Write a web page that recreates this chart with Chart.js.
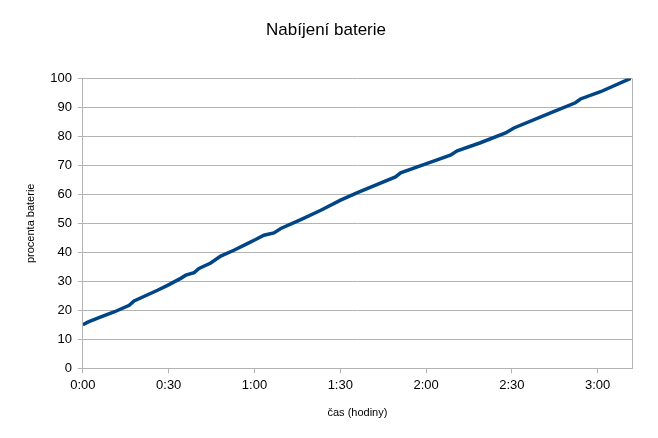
<!DOCTYPE html>
<html lang="cs">

<head>
    <meta charset="UTF-8" />
    <title>Nabíjení baterie</title>
    <script src="https://cdn.jsdelivr.net/npm/chart.js"></script>
    <style>
        body { margin: 0; background: #fff; }
    </style>
</head>

<body>
    <canvas id="chart" width="658" height="438"></canvas>

    <script>
        // time in minutes since start of charging
        const minutes = [0, 1.9, 6.3, 10.9, 16.2, 17.9, 26.1, 29.6, 34.2, 36, 38.9, 40.6, 44.7, 48.2, 52.8, 57.5,
            60.4, 63.3, 66.8, 69.2, 76.2, 83.2, 90.1, 96, 109.3, 111.1, 120.4, 128.5, 130.9, 139, 147.8, 150.7,
            164.6, 172.2, 174, 181, 191.5];
        // battery percentage
        const percent = [15, 16, 17.7, 19.4, 21.7, 23.2, 26.9, 28.6, 31, 32.1, 33, 34.4, 36.3, 38.7, 40.7, 43,
            44.4, 45.9, 46.7, 48.2, 51.3, 54.5, 58, 60.6, 66, 67.4, 70.7, 73.5, 75, 77.8, 81.2, 82.9,
            88.5, 91.6, 92.9, 95.4, 100];
        const yTicks = [0, 10, 20, 30, 40, 50, 60, 70, 80, 90, 100];

        const points = minutes.map((m, i) => ({ x: m, y: percent[i] }));

        function hm(v) {
            const h = Math.floor(v / 60);
            const m = Math.round(v % 60);
            return h + ':' + (m < 10 ? '0' : '') + m;
        }

        const frame = {
            id: 'frame',
            afterDraw(chart) {
                const a = chart.chartArea;
                const c = chart.ctx;
                c.save();
                c.strokeStyle = '#b3b3b3';
                c.lineWidth = 1;
                c.beginPath();
                c.moveTo(Math.round(a.right) + 0.5, a.top);
                c.lineTo(Math.round(a.right) + 0.5, a.bottom);
                c.stroke();
                c.restore();
            }
        };

        Chart.defaults.font.family = '"Liberation Sans", Arial, sans-serif';
        Chart.defaults.color = '#000';

        new Chart(document.getElementById('chart'), {
            type: 'line',
            data: {
                datasets: [{
                    data: points,
                    borderColor: '#004586',
                    borderWidth: 3.5,
                    pointRadius: 0,
                    tension: 0,
                    fill: false
                }]
            },
            options: {
                responsive: false,
                animation: false,
                layout: { padding: { left: 20, right: 26, top: 10, bottom: 14 } },
                plugins: {
                    legend: { display: false },
                    tooltip: { enabled: false },
                    title: {
                        display: true,
                        text: 'Nabíjení baterie',
                        font: { size: 17, weight: 'normal' },
                        padding: { top: 10, bottom: 38 }
                    }
                },
                scales: {
                    x: {
                        type: 'linear',
                        min: 0,
                        max: 192,
                        afterBuildTicks: (axis) => {
                            axis.ticks = [0, 30, 60, 90, 120, 150, 180].map(v => ({ value: v }));
                        },
                        ticks: {
                            callback: (v) => hm(v),
                            font: { size: 13 },
                            maxRotation: 0,
                            padding: 4
                        },
                        grid: { drawOnChartArea: false, color: '#b3b3b3', tickLength: 5 },
                        border: { color: '#b3b3b3' },
                        title: {
                            display: true,
                            text: 'čas (hodiny)',
                            font: { size: 11 },
                            padding: { top: 10 }
                        }
                    },
                    y: {
                        min: 0,
                        max: 100,
                        afterBuildTicks: (axis) => {
                            axis.ticks = yTicks.map(v => ({ value: v }));
                        },
                        ticks: { font: { size: 13 }, padding: 6 },
                        grid: { color: '#b3b3b3', tickLength: 5 },
                        border: { color: '#b3b3b3' },
                        title: {
                            display: true,
                            text: 'procenta baterie',
                            font: { size: 11 },
                            padding: { bottom: 7 }
                        }
                    }
                }
            },
            plugins: [frame]
        });
    </script>
</body>

</html>
